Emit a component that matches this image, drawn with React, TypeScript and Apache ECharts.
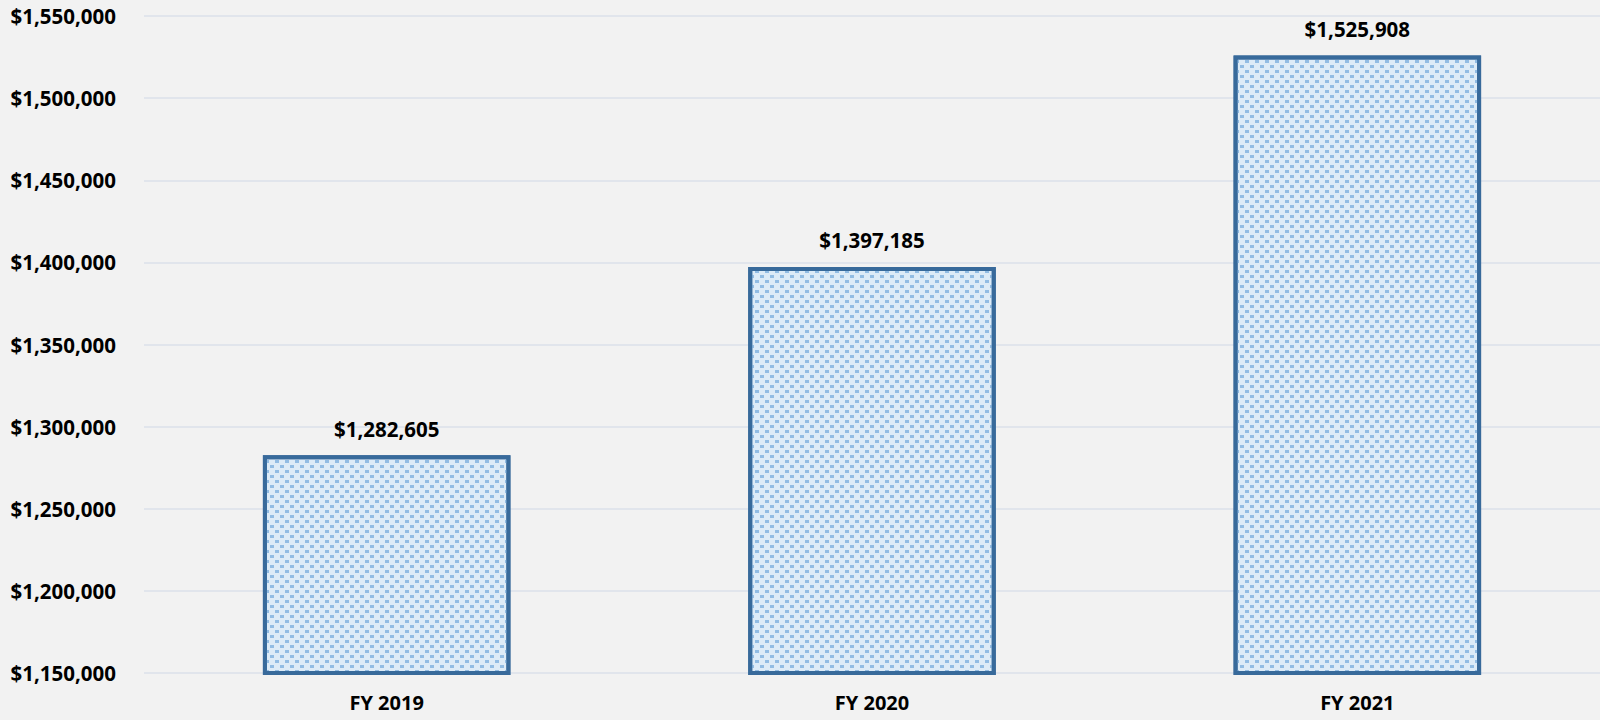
import React, { useEffect, useRef } from "react";
import * as echarts from "echarts";

const categories = ["FY 2019", "FY 2020", "FY 2021"];
const values = [1282605, 1397185, 1525908];
const yMin = 1150000;
const yMax = 1550000;
const yInterval = 50000;

const fmt = (v: number) => "$" + v.toLocaleString("en-US");

export default function App() {
  const ref = useRef<HTMLDivElement>(null);
  useEffect(() => {
    if (!ref.current) return;
    const chart = echarts.init(ref.current, undefined, { renderer: "svg" });
    const font = "'Open Sans', 'Noto Sans', sans-serif";
    chart.setOption({
      animation: false,
      backgroundColor: "#F2F2F2",
      grid: { left: 144, top: 16, width: 1462, height: 657 },
      xAxis: {
        type: "category",
        data: categories,
        axisLine: { show: false },
        axisTick: { show: false },
        axisLabel: {
          margin: 19,
          color: "#000",
          fontWeight: "bold",
          fontSize: 20,
          fontFamily: font,
        },
      },
      yAxis: {
        type: "value",
        min: yMin,
        max: yMax,
        interval: yInterval,
        axisLine: { show: false },
        axisTick: { show: false },
        splitLine: { lineStyle: { color: "#E1E5EC", width: 2 } },
        axisLabel: {
          margin: 28,
          color: "#000",
          fontWeight: "bold",
          fontSize: 20.5,
          fontFamily: font,
          formatter: (v: number) => fmt(v),
        },
      },
      series: [
        {
          type: "bar",
          data: values,
          barWidth: "51%",
          itemStyle: {
            color: "#DDEBF7",
            borderColor: "#386A9B",
            borderWidth: 4,
            decal: {
              symbol: "rect",
              symbolSize: 1,
              color: "#92BCE3",
              dashArrayX: [
                [4, 6],
                [0, 5, 4, 1],
              ],
              dashArrayY: [3, 2],
              rotation: 0,
            },
          },
          label: {
            show: true,
            position: "top",
            distance: 16,
            color: "#000",
            fontWeight: "bold",
            fontSize: 20.5,
            fontFamily: font,
            formatter: (p: any) => fmt(p.value),
          },
        },
      ],
    });
    return () => chart.dispose();
  }, []);
  return (
    <div
      ref={ref}
      style={{ position: "fixed", left: 0, top: 0, width: 1600, height: 720 }}
    />
  );
}
